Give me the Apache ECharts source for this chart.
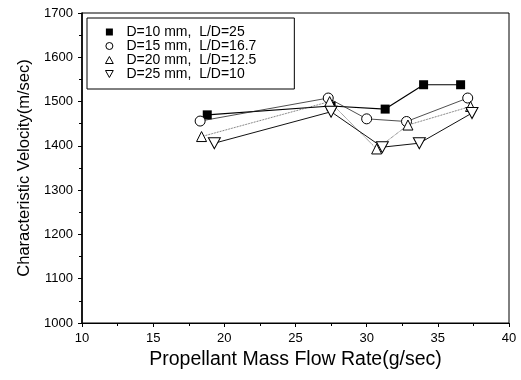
<!DOCTYPE html>
<html lang="en">
<head>
  <meta charset="utf-8">
  <title>Characteristic velocity</title>
  <style>
    html, body { margin: 0; padding: 0; background: #fff; }
    #box { width: 521px; height: 380px; }
  </style>
</head>
<body>
  <div id="box"></div>
  <script src="https://cdn.jsdelivr.net/npm/echarts@6/dist/echarts.min.js"></script>
  <script>
    // values
    var names = ['D=10 mm,  L/D=25', 'D=15 mm,  L/D=16.7', 'D=20 mm,  L/D=12.5', 'D=25 mm,  L/D=10'];
    var sqX = [18.8, 27.5, 31.3, 34.0, 36.6];
    var sqY = [1470, 1490, 1483, 1538, 1538];
    var ciX = [18.3, 27.3, 30.0, 32.8, 37.1];
    var ciY = [1456, 1508, 1461, 1455, 1508];
    var upX = [18.4, 27.4, 30.7, 32.9, 37.3];
    var upY = [1421, 1500, 1393, 1447, 1489];
    var dnX = [19.3, 27.5, 31.1, 33.7, 37.4];
    var dnY = [1406, 1477, 1397, 1406, 1474];

    function pairs(xs, ys) {
      return xs.map(function (x, i) { return [x, ys[i]]; });
    }

    var font = 'Liberation Sans, Arial, sans-serif';
    // legend icons as paths so they keep a square shape inside a wide slot
    var icons = [
      'path://M0,0L10,0L10,10L0,10Z',
      'path://M5,0A5,5,0,1,1,5,10A5,5,0,1,1,5,0Z',
      'path://M5,0L10,9L0,9Z',
      'path://M0,0L10,0L5,9Z'
    ];
    var openStyle = { color: '#fff', borderColor: '#000', borderWidth: 1 };
    var chart = echarts.init(document.getElementById('box'));

    var option = {
      backgroundColor: '#fff',
      animation: false,
      grid: {
        left: 82, right: 12, top: 13, bottom: 57,
        show: true, borderColor: '#000', borderWidth: 1
      },
      legend: {
        orient: 'vertical',
        left: 87, top: 18,
        padding: [7, 38, 8, 18],
        itemGap: 0,
        itemWidth: 24, itemHeight: 7,
        symbolKeepAspect: true,
        borderColor: '#000', borderWidth: 1,
        textStyle: { fontFamily: font, fontSize: 14, color: '#000' },
        data: [
          { name: names[0], icon: icons[0], itemStyle: { color: '#000', borderWidth: 0 } },
          { name: names[1], icon: icons[1], itemStyle: openStyle },
          { name: names[2], icon: icons[2], itemStyle: openStyle },
          { name: names[3], icon: icons[3], itemStyle: openStyle }
        ]
      },
      xAxis: {
        type: 'value',
        min: 10, max: 40, interval: 5,
        name: 'Propellant Mass Flow Rate(g/sec)',
        nameLocation: 'middle', nameGap: 22,
        nameTextStyle: { fontFamily: font, fontSize: 19.5, color: '#000' },
        axisLine: { lineStyle: { color: '#000', width: 1.2 } },
        axisTick: { length: 4, lineStyle: { color: '#000' } },
        minorTick: { show: true, splitNumber: 2, length: 3, lineStyle: { color: '#000' } },
        axisLabel: { fontFamily: font, fontSize: 13, color: '#000', margin: 9 },
        splitLine: { show: false }
      },
      yAxis: {
        type: 'value',
        min: 1000, max: 1700, interval: 100,
        name: 'Characteristic Velocity(m/sec)',
        nameLocation: 'middle', nameGap: 46,
        nameTextStyle: { fontFamily: font, fontSize: 16.5, color: '#000' },
        axisLine: { lineStyle: { color: '#000', width: 1.6 } },
        axisTick: { length: 4, lineStyle: { color: '#000' } },
        minorTick: { show: true, splitNumber: 2, length: 3, lineStyle: { color: '#000' } },
        axisLabel: {
          fontFamily: font, fontSize: 13, color: '#000', margin: 9,
          formatter: function (v) { return String(v); }
        },
        splitLine: { show: false }
      },
      series: [
        {
          name: names[0], type: 'line', data: pairs(sqX, sqY),
          symbol: 'rect', symbolSize: 9,
          itemStyle: { color: '#000' },
          lineStyle: { color: '#000', width: 1.2 }
        },
        {
          name: names[1], type: 'line', data: pairs(ciX, ciY),
          symbol: 'circle', symbolSize: 10,
          itemStyle: openStyle,
          lineStyle: { color: '#222', width: 0.8 }
        },
        {
          name: names[2], type: 'line', data: pairs(upX, upY),
          symbol: 'triangle', symbolSize: 10,
          itemStyle: openStyle,
          lineStyle: { color: '#333', width: 0.8, type: 'dotted' }
        },
        {
          name: names[3], type: 'line', data: pairs(dnX, dnY),
          symbol: 'triangle', symbolRotate: 180, symbolSize: [12, 11],
          itemStyle: openStyle,
          lineStyle: { color: '#111', width: 1 }
        }
      ]
    };
    chart.setOption(option);
  </script>
</body>
</html>
